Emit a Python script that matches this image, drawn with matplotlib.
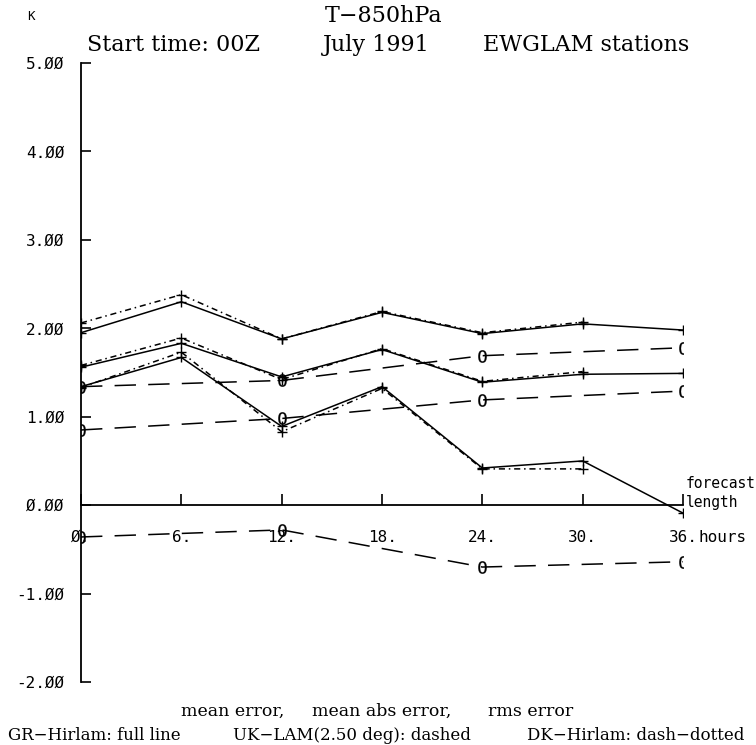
import numpy as np
import matplotlib
matplotlib.use('Agg')
import matplotlib.pyplot as plt

# forecast length (hours)
hours = [0, 6, 12, 18, 24, 30, 36]
hours_dk = [0, 6, 12, 18, 24, 30]
hours_uk = [0, 12, 24, 36]

# GR-Hirlam (full line)
gr_rms = [1.95, 2.30, 1.88, 2.18, 1.94, 2.05, 1.98]
gr_abs = [1.56, 1.83, 1.45, 1.76, 1.39, 1.48, 1.49]
gr_mean = [1.34, 1.67, 0.89, 1.34, 0.42, 0.50, -0.09]

# DK-Hirlam (dash-dotted)
dk_rms = [2.06, 2.38, 1.88, 2.19, 1.95, 2.07]
dk_abs = [1.58, 1.89, 1.42, 1.77, 1.40, 1.51]
dk_mean = [1.33, 1.73, 0.83, 1.32, 0.41, 0.41]

# UK-LAM 2.50 deg (dashed)
uk_rms = [1.34, 1.41, 1.69, 1.78]
uk_abs = [0.85, 0.98, 1.19, 1.29]
uk_mean = [-0.36, -0.28, -0.70, -0.64]

yticks = [-2, -1, 0, 1, 2, 3, 4, 5]
ytick_labels = ['-2.ØØ', '-1.ØØ', 'Ø.ØØ', '1.ØØ', '2.ØØ', '3.ØØ', '4.ØØ', '5.ØØ']
xticks = hours
xtick_labels = ['Ø.', '6.', '12.', '18.', '24.', '30.', '36.']

W, H = 756, 745
fig = plt.figure(figsize=(W / 100, H / 100), dpi=100)
ax = fig.add_axes([81 / W, 1 - 682 / H, 602 / W, 619 / H])

mono = 'DejaVu Sans Mono'
serif = 'DejaVu Serif'
lw = 1.1

lines = []
for ys in (gr_rms, gr_abs, gr_mean):
    lines += ax.plot(hours, ys, color='black', lw=lw, marker='+', ms=7, mew=1)
for ys in (dk_rms, dk_abs, dk_mean):
    lines += ax.plot(hours_dk, ys, color='black', lw=lw, ls=(0, (4, 2.5, 1, 2.5)),
                     marker='+', ms=7, mew=1)
for ys in (uk_rms, uk_abs, uk_mean):
    lines += ax.plot(hours_uk, ys, color='black', lw=lw, ls=(0, (14, 8)),
                     marker='$0$', ms=9, mew=0.2)
# cut the end markers at the frame edges
for ln in lines:
    ln.set_clip_path(ax.patch)

ax.set_xlim(0, 36)
ax.set_ylim(-2, 5)

for s in ('top', 'right'):
    ax.spines[s].set_visible(False)
ax.spines['bottom'].set_position(('data', 0))
ax.spines['left'].set_linewidth(1.3)
ax.spines['bottom'].set_linewidth(1.3)

ax.set_yticks(yticks)
ax.set_yticklabels(ytick_labels, family=mono, fontsize=11.5)
ax.tick_params(axis='y', direction='in', length=7, width=1.2, pad=12)
ax.set_xticks(xticks)
ax.set_xticklabels(xtick_labels, family=mono, fontsize=11.5)
ax.tick_params(axis='x', direction='in', length=8, width=1.2, pad=18)

def ftext(x, y, s, **kw):
    fig.text(x / W, 1 - y / H, s, va='center', **kw)

ftext(27, 16, 'K', family=mono, fontsize=9)
ftext(325, 16, 'T−850hPa', family=serif, fontsize=16)
ftext(87, 45, 'Start time: 00Z', family=serif, fontsize=16)
ftext(323, 45, 'July 1991', family=serif, fontsize=16)
ftext(483, 45, 'EWGLAM stations', family=serif, fontsize=16)

ftext(698, 538, 'hours', family=mono, fontsize=11.5)
ftext(686, 483, 'forecast', family=mono, fontsize=10.5)
ftext(686, 503, 'length', family=mono, fontsize=10.5)

ftext(181, 711, 'mean error,', family=serif, fontsize=12.5)
ftext(312, 711, 'mean abs error,', family=serif, fontsize=12.5)
ftext(488, 711, 'rms error', family=serif, fontsize=12.5)
ftext(8, 735, 'GR−Hirlam: full line', family=serif, fontsize=12)
ftext(233, 735, 'UK−LAM(2.50 deg): dashed', family=serif, fontsize=12)
ftext(527, 735, 'DK−Hirlam: dash−dotted', family=serif, fontsize=12)

fig.savefig('out.png', dpi=100)
